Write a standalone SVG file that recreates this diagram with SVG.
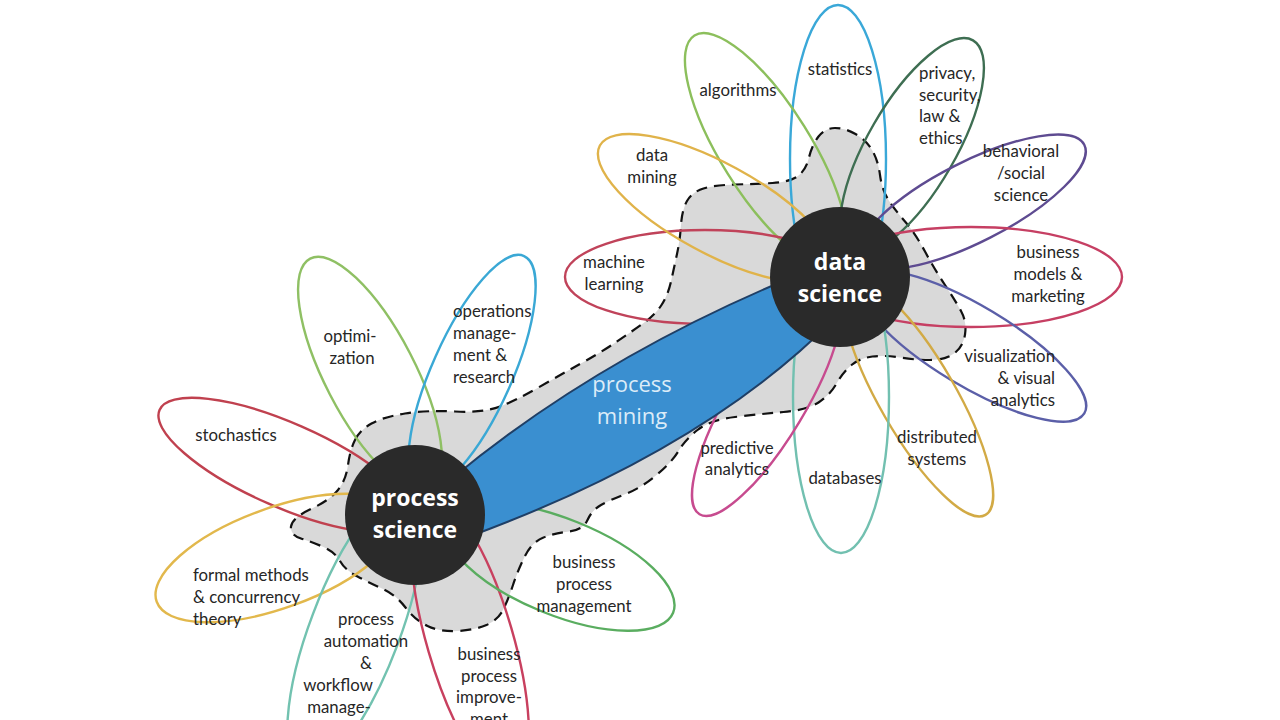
<svg xmlns="http://www.w3.org/2000/svg" width="1280" height="720" viewBox="0 0 1280 720">
<style>
.pet{fill:none;stroke-width:2.4}
.lbl{font-family:Lato,"Liberation Sans",sans-serif;font-size:16.8px;fill:#262626}
.c{text-anchor:middle}
.hub{fill:#2a2a2a}
.hubt{font-family:"Open Sans",Lato,"Liberation Sans",sans-serif;font-size:23px;font-weight:bold;fill:#ffffff;text-anchor:middle}
.pm{font-family:"Open Sans",Lato,"Liberation Sans",sans-serif;font-size:22px;fill:#dcecf8;text-anchor:middle}
</style>
<rect width="1280" height="720" fill="#ffffff"/>
<g id="blob">
<path fill="#d9d9d9" stroke="#111" stroke-width="2.2" stroke-dasharray="11 7" d="M355,440 Q360,430 371.5,423.5 Q383,417 405,413.5 Q427,410 455,411.5 Q483,413 500,406.5 Q517,400 538.5,387.5 Q560,375 580,364 Q600,353 615.5,342.5 Q631,332 643,323.5 Q655,315 661.5,305 Q668,295 671,281.5 Q674,268 677,254 Q680,240 681,225 Q682,210 687,201 Q692,192 703.5,188.5 Q715,185 735,184.5 Q755,184 772.5,183 Q790,182 798,176 Q806,170 809,157.5 Q812,145 818.5,136.5 Q825,128 835,128 Q845,128 855.5,134 Q866,140 872,150 Q878,160 880,175 Q882,190 888.5,200 Q895,210 905,221.5 Q915,233 925,251.5 Q935,270 945,285 Q955,300 961,311 Q967,322 965,334.5 Q963,347 954,353.5 Q945,360 930,360 Q915,360 900,357.5 Q885,355 872.5,356.5 Q860,358 851.5,365 Q843,372 836.5,383.5 Q830,395 818.5,402.5 Q807,410 783.5,412 Q760,414 735,417 Q710,420 697.5,430 Q685,440 678.5,451 Q672,462 656.5,475 Q641,488 625.5,494 Q610,500 601,505 Q592,510 587.5,520 Q583,530 569,531.5 Q555,533 543.5,537.5 Q532,542 525,556 Q518,570 513,585 Q508,600 503,610 Q498,620 486.5,625 Q475,630 457.5,631 Q440,632 427.5,626 Q415,620 405.5,607.5 Q396,595 383,589 Q370,583 357.5,576.5 Q345,570 340,561 Q335,552 323.5,547 Q312,542 301,538.5 Q290,535 291,526.5 Q292,518 311,509 Q330,500 338,490 Q346,480 348,465 Q350,450 355,440 Z"/>
</g>
<g id="petals">
<ellipse id="p-statistics" class="pet" stroke="#3aa8d8" cx="838" cy="159" rx="48" ry="154"/>
<ellipse id="p-algorithms" class="pet" stroke="#8cbf5c" cx="766" cy="150" rx="135" ry="45" transform="rotate(58 766 150)"/>
<ellipse id="p-privacy" class="pet" stroke="#3e6e52" cx="912" cy="146" rx="122" ry="44" transform="rotate(-60 912 146)"/>
<ellipse id="p-behavioral" class="pet" stroke="#5e4b91" cx="972" cy="202" rx="126" ry="40" transform="rotate(-27 972 202)"/>
<ellipse id="p-business-models" class="pet" stroke="#c63f63" cx="971" cy="277" rx="151" ry="50"/>
<ellipse id="p-visualization" class="pet" stroke="#5b5fa8" cx="972" cy="346" rx="131" ry="40" transform="rotate(31 972 346)"/>
<ellipse id="p-distributed" class="pet" stroke="#d2aa45" cx="918" cy="398" rx="135" ry="38" transform="rotate(60 918 398)"/>
<ellipse id="p-databases" class="pet" stroke="#72c0b0" cx="841" cy="397" rx="48" ry="156"/>
<ellipse id="p-predictive" class="pet" stroke="#c74b8f" cx="767" cy="402" rx="131" ry="38" transform="rotate(-59 767 402)"/>
<ellipse id="p-machine-learning" class="pet" stroke="#c0435a" cx="705" cy="277" rx="140" ry="47"/>
<ellipse id="p-data-mining" class="pet" stroke="#e0b34a" cx="715" cy="208" rx="131" ry="45" transform="rotate(28.5 715 208)"/>
<ellipse id="p-stochastics" class="pet" stroke="#c0414f" cx="285" cy="465" rx="137" ry="42" transform="rotate(23.7 285 465)"/>
<ellipse id="p-optimization" class="pet" stroke="#8fc064" cx="370" cy="374" rx="130" ry="45" transform="rotate(62.6 370 374)"/>
<ellipse id="p-operations" class="pet" stroke="#3aa8d5" cx="472" cy="373" rx="128" ry="40" transform="rotate(114 472 373)"/>
<ellipse id="p-formal" class="pet" stroke="#e2b84c" cx="277" cy="558" rx="128" ry="50" transform="rotate(-20 277 558)"/>
<ellipse id="p-automation" class="pet" stroke="#72c2b0" cx="355" cy="630" rx="150" ry="45" transform="rotate(110.7 355 630)"/>
<ellipse id="p-improvement" class="pet" stroke="#c8405f" cx="470" cy="640" rx="150" ry="43" transform="rotate(73.7 470 640)"/>
<ellipse id="p-bpm" class="pet" stroke="#5aad60" cx="560" cy="567" rx="122" ry="48" transform="rotate(22 560 567)"/>
</g>
<g id="process-mining">
<path d="M450,480 Q600,355 805,272 L835,318 Q705,450 468,537 Z" fill="#3a8fd0" stroke="#1f3f66" stroke-width="2"/>
<text class="pm" x="632" y="392">process</text>
<text class="pm" x="632" y="424">mining</text>
</g>
<g id="data-science">
<circle class="hub" cx="840" cy="277" r="70"/>
<text class="hubt" x="840" y="270">data</text>
<text class="hubt" x="840" y="302">science</text>
</g>
<g id="process-science">
<circle class="hub" cx="415" cy="515" r="70"/>
<text class="hubt" x="415" y="506">process</text>
<text class="hubt" x="415" y="538">science</text>
</g>
<g id="labels">
<text class="lbl c" x="840" y="75">statistics</text>
<text class="lbl c" x="738" y="96">algorithms</text>
<text class="lbl" x="919" y="79">privacy,</text>
<text class="lbl" x="919" y="101">security,</text>
<text class="lbl" x="919" y="122">law &amp;</text>
<text class="lbl" x="919" y="144">ethics</text>
<text class="lbl c" x="1021" y="157">behavioral</text>
<text class="lbl c" x="1021" y="179">/social</text>
<text class="lbl c" x="1021" y="201">science</text>
<text class="lbl c" x="1048" y="258">business</text>
<text class="lbl c" x="1048" y="280">models &amp;</text>
<text class="lbl c" x="1048" y="302">marketing</text>
<text class="lbl" x="1055" y="362" text-anchor="end">visualization</text>
<text class="lbl" x="1055" y="384" text-anchor="end">&amp; visual</text>
<text class="lbl" x="1055" y="406" text-anchor="end">analytics</text>
<text class="lbl c" x="937" y="443">distributed</text>
<text class="lbl c" x="937" y="465">systems</text>
<text class="lbl c" x="845" y="484">databases</text>
<text class="lbl c" x="737" y="454">predictive</text>
<text class="lbl c" x="737" y="475">analytics</text>
<text class="lbl c" x="614" y="268">machine</text>
<text class="lbl c" x="614" y="290">learning</text>
<text class="lbl c" x="652" y="161">data</text>
<text class="lbl c" x="652" y="183">mining</text>
<text class="lbl c" x="350" y="342">optimi-</text>
<text class="lbl c" x="352" y="364">zation</text>
<text class="lbl" x="453" y="317">operations</text>
<text class="lbl" x="453" y="339">manage-</text>
<text class="lbl" x="453" y="361">ment &amp;</text>
<text class="lbl" x="453" y="383">research</text>
<text class="lbl c" x="236" y="441">stochastics</text>
<text class="lbl" x="193" y="581">formal methods</text>
<text class="lbl" x="193" y="603">&amp; concurrency</text>
<text class="lbl" x="193" y="625">theory</text>
<text class="lbl c" x="366" y="625">process</text>
<text class="lbl c" x="366" y="647">automation</text>
<text class="lbl c" x="366" y="669">&amp;</text>
<text class="lbl c" x="338" y="691">workflow</text>
<text class="lbl c" x="339" y="713">manage-</text>
<text class="lbl c" x="489" y="660">business</text>
<text class="lbl c" x="489" y="682">process</text>
<text class="lbl c" x="489" y="703">improve-</text>
<text class="lbl c" x="489" y="725">ment</text>
<text class="lbl c" x="584" y="568">business</text>
<text class="lbl c" x="584" y="590">process</text>
<text class="lbl c" x="584" y="612">management</text>
</g>
</svg>
